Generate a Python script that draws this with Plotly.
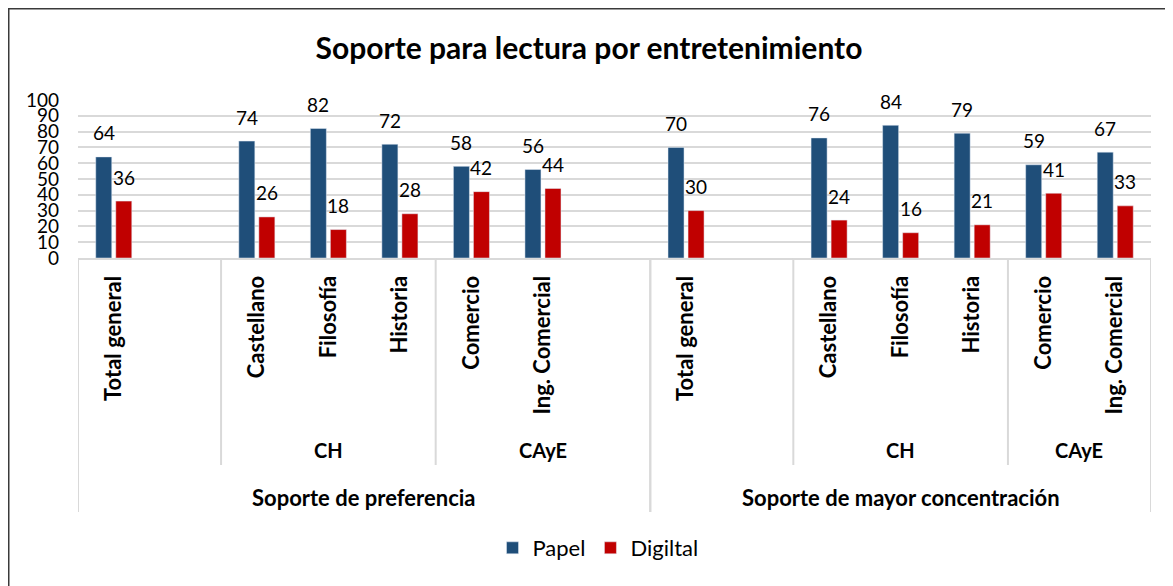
import plotly.graph_objects as go

# ---- data ----
level3 = ["Soporte de preferencia"] * 8 + ["Soporte de mayor concentración"] * 7
level2 = ["", "", "CH", "CH", "CH", "CAyE", "CAyE", "CAyE",
          "", "", "CH", "CH", "CH", "CAyE", "CAyE"]
level1 = ["Total general", "", "Castellano", "Filosofía", "Historia", "Comercio", "Ing. Comercial", "",
          "Total general", "", "Castellano", "Filosofía", "Historia", "Comercio", "Ing. Comercial"]
papel = [64, None, 74, 82, 72, 58, 56, None, 70, None, 76, 84, 79, 59, 67]
digital = [36, None, 26, 18, 28, 42, 44, None, 30, None, 24, 16, 21, 41, 33]

title = "Soporte para lectura por entretenimiento"
BLUE = "#1F4E79"
RED = "#C00000"
GRID = "#D9D9D9"
FONT = "Lato"

# page body has an 8px margin: reference pixel p -> figure pixel p - OFF
OFF = 8
W, H = 1173 - OFF, 586 - OFF
PLOT_L, PLOT_R, PLOT_T, PLOT_B = 78 - OFF, 1151 - OFF, 100 - OFF, 258 - OFF
ML, MR, MT, MB = PLOT_L, W - PLOT_R, PLOT_T, H - PLOT_B
PH = PLOT_B - PLOT_T
PW = PLOT_R - PLOT_L
n = len(level1)
xs = list(range(n))

fig = go.Figure()
fig.add_trace(go.Bar(x=xs, y=papel, name="Papel", marker_color=BLUE))
fig.add_trace(go.Bar(x=xs, y=digital, name="Digiltal", marker_color=RED))

annotations = []
for i in xs:
    for vals, dx in ((papel, -10), (digital, 10)):
        v = vals[i]
        if v is None:
            continue
        annotations.append(dict(x=i, y=v, xref="x", yref="y", text=str(v), showarrow=False,
                                xshift=dx, yshift=24, yanchor="middle",
                                font=dict(family=FONT, size=19, color="black")))


def ry(p):
    """reference pixel row -> paper y"""
    return ((H - MB) - (p - OFF)) / PH


def rx(p):
    return ((p - OFF) - ML) / PW


def runs(labels, limit=False):
    out = []
    start = 0
    for i in range(1, n + 1):
        if i == n or labels[i] != labels[start] or (limit and level3[i] != level3[start]):
            out.append((start, i - 1, labels[start]))
            start = i
    return out


shapes = []
for s, e, lab in runs(level2, limit=True):
    if lab:
        annotations.append(dict(x=(s + e) / 2, y=ry(450), xref="x", yref="paper", text="<b>%s</b>" % lab,
                                showarrow=False, yanchor="middle",
                                font=dict(family=FONT, size=20, color="black")))
    if s > 0 and level3[s] == level3[s - 1]:
        shapes.append(dict(type="line", xref="x", yref="paper", x0=s - 0.5, x1=s - 0.5,
                           y0=0, y1=ry(465), line=dict(color=GRID, width=2)))
for s, e, lab in runs(level3):
    annotations.append(dict(x=(s + e) / 2, y=ry(497), xref="x", yref="paper", text="<b>%s</b>" % lab,
                            showarrow=False, yanchor="middle",
                            font=dict(family=FONT, size=22, color="black")))
    for b in (s - 0.5, e + 0.5):
        shapes.append(dict(type="line", xref="x", yref="paper", x0=b, x1=b,
                           y0=0, y1=ry(512), line=dict(color=GRID, width=2)))

# outer chart border
shapes.append(dict(type="rect", xref="paper", yref="paper",
                   x0=rx(8.5), x1=rx(1166), y0=ry(640), y1=ry(8.5),
                   line=dict(color="#3a3a3a", width=2), fillcolor="rgba(0,0,0,0)", layer="above"))

fig.update_layout(
    width=W, height=H,
    margin=dict(l=ML, r=MR, t=MT, b=MB, autoexpand=False),
    paper_bgcolor="white", plot_bgcolor="white",
    barmode="group", bargap=0.44, bargroupgap=0.2,
    title=dict(text="<b>%s</b>" % title, x=(589 - OFF) / W, xanchor="center", xref="container",
               y=1 - (48 - OFF) / H, yanchor="middle", yref="container",
               font=dict(family=FONT, size=30, color="black")),
    font=dict(family=FONT, size=18, color="black"),
    xaxis=dict(range=[-0.5, n - 0.5], tickmode="array", tickvals=xs, ticktext=level1,
               tickangle=-90, ticks="", showgrid=False, zeroline=False,
               showline=True, linecolor=GRID, linewidth=2,
               tickfont=dict(family=FONT, size=22, color="black", weight="bold"),
               ticklabelstandoff=7),
    yaxis=dict(range=[0, 100], dtick=10, showgrid=True, gridcolor=GRID, gridwidth=2,
               zeroline=False, ticks="", ticklabelstandoff=18,
               tickfont=dict(family=FONT, size=19, color="black")),
    legend=dict(orientation="h", x=(598 - OFF) / W, xref="container", xanchor="center",
                y=1 - (548 - OFF) / H, yref="container", yanchor="middle",
                font=dict(family=FONT, size=22, color="black")),
    annotations=annotations,
    shapes=shapes,
)

fig.write_html("out.html")
